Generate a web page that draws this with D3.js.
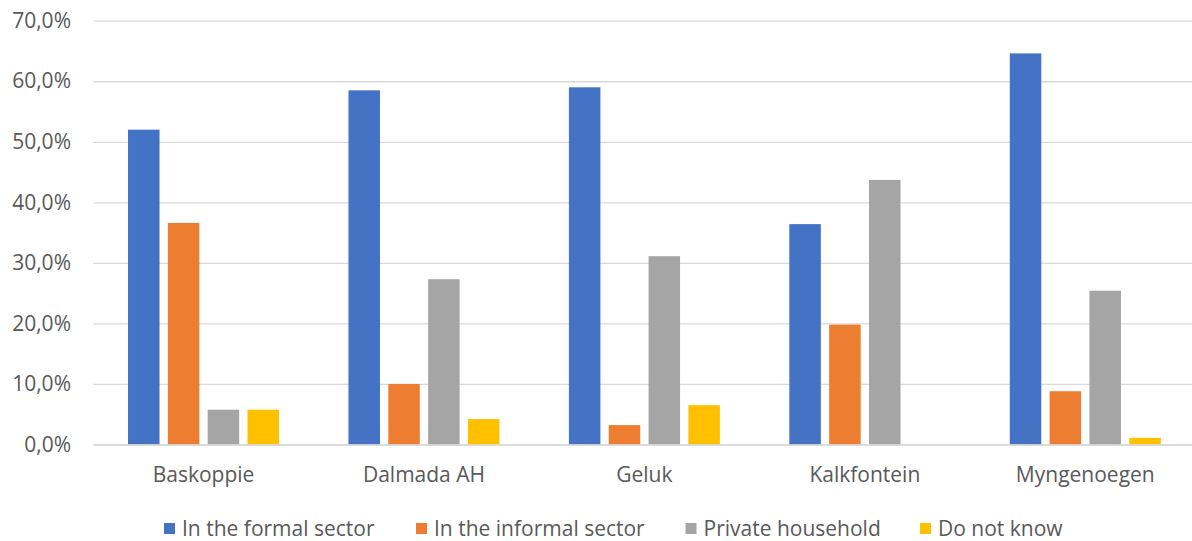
<!DOCTYPE html>
<html><head><meta charset="utf-8">
<script src="https://cdn.jsdelivr.net/npm/d3@7"></script>
<style>
html,body{margin:0;padding:0;background:#fff;}
svg{display:block;font-family:"Open Sans", sans-serif;}
</style></head>
<body><svg id="chart" width="1192" height="541"></svg>
<script>
const categories = ["Baskoppie", "Dalmada AH", "Geluk", "Kalkfontein", "Myngenoegen"];
const seriesNames = ["In the formal sector", "In the informal sector", "Private household", "Do not know"];
const formal = [52.0, 58.5, 59.0, 36.4, 64.6];
const informal = [36.6, 10.0, 3.2, 19.8, 8.8];
const household = [5.75, 27.3, 31.1, 43.7, 25.4];
const dontKnow = [5.75, 4.2, 6.5, 0, 1.1];
const yTicks = [0, 10, 20, 30, 40, 50, 60, 70];
const colors = ["#4472C4", "#ED7D31", "#A5A5A5", "#FFC000"];
const seriesValues = [formal, informal, household, dontKnow];

(function () {
const svg = d3.select("#chart");
const pLeft = 93.3, pRight = 1195.5, pTop = 20.7, pBottom = 444.5;
const fs = "21px", ff = "'Open Sans', sans-serif";

const x0 = d3.scaleBand().domain(categories).range([pLeft, pRight]).paddingInner(0).paddingOuter(0);
const y = d3.scaleLinear().domain([0, 70]).range([pBottom, pTop]);

// gridlines + y labels
const yAxis = d3.axisLeft(y).tickValues(yTicks).tickSize(-(pRight - pLeft)).tickPadding(22)
  .tickFormat(d => d.toFixed(1).replace(".", ",") + "%");
const gy = svg.append("g").attr("transform", `translate(${pLeft},0)`).call(yAxis)
  .attr("font-family", ff).attr("font-size", fs);
gy.select(".domain").remove();
gy.selectAll(".tick line").attr("stroke", "#D9D9D9").attr("stroke-width", 1.3);
gy.selectAll(".tick text").attr("fill", "#595959").attr("x", 71 - pLeft);

// bars
const groupW = 151, barW = 31.5, step = (groupW - barW) / 3;
const rows = [];
categories.forEach((c, i) => seriesNames.forEach((s, j) => rows.push({c, s, j, v: seriesValues[j][i]})));
svg.append("g").selectAll("rect").data(rows).join("rect")
  .attr("x", d => x0(d.c) + x0.bandwidth() / 2 - groupW / 2 + d.j * step)
  .attr("width", barW)
  .attr("y", d => y(d.v))
  .attr("height", d => y(0) - y(d.v))
  .attr("fill", d => colors[d.j]);

// x axis
const xAxis = d3.axisBottom(x0).tickSize(0).tickPadding(23);
const gx = svg.append("g").attr("transform", `translate(0,${pBottom})`).call(xAxis)
  .attr("font-family", ff).attr("font-size", fs);
gx.select(".domain").attr("stroke", "#D9D9D9").attr("stroke-width", 1.3);
gx.selectAll(".tick text").attr("fill", "#595959");

// legend
const legendX = [164, 416, 685.5, 920];
const lg = svg.append("g").selectAll("g").data(seriesNames).join("g")
  .attr("transform", (d, i) => `translate(${legendX[i]},529)`);
lg.append("rect").attr("x", 0).attr("y", -6).attr("width", 11).attr("height", 11).attr("fill", (d, i) => colors[i]);
lg.append("text").attr("x", 18).attr("y", 0).attr("dy", "0.35em").attr("fill", "#595959")
  .style("font-size", fs).style("font-family", ff).text(d => d);
})();
</script></body></html>
